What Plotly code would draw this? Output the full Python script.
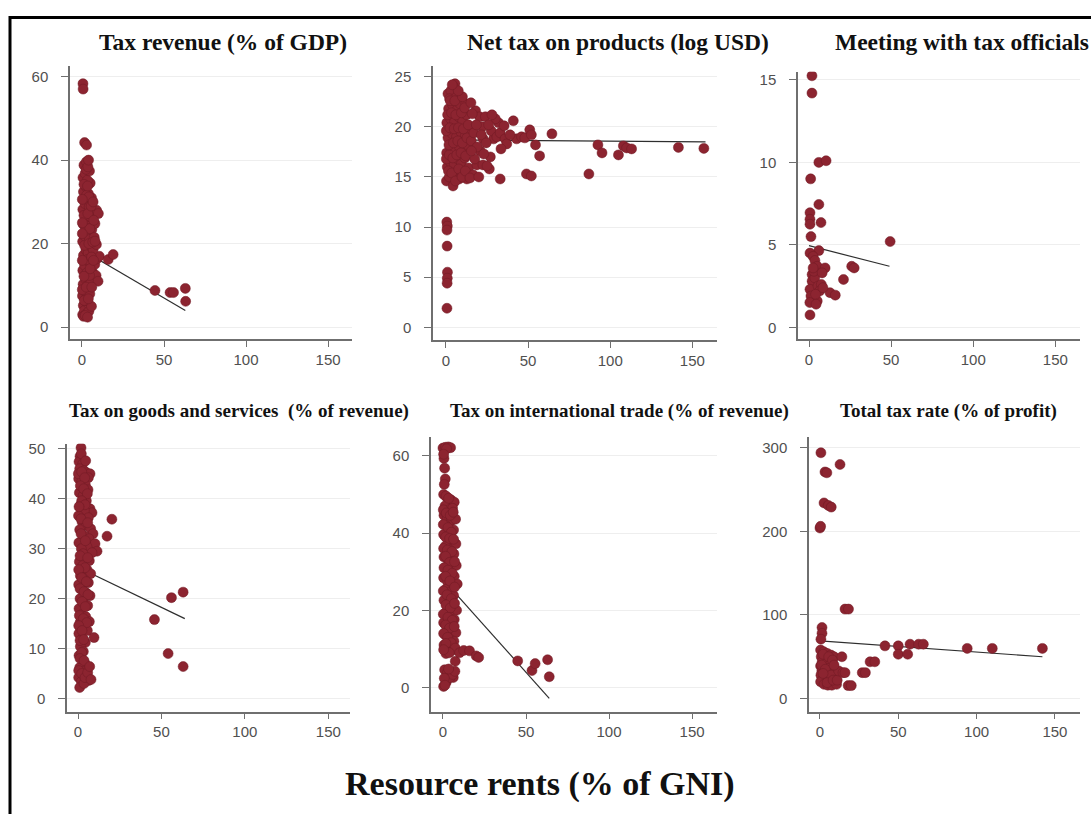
import plotly.graph_objects as go

# ---------------- data ----------------
titles_top = ["Tax revenue (% of GDP)", "Net tax on products (log USD)", "Meeting with tax officials"]
titles_bottom = ["Tax on goods and services&nbsp; (% of revenue)", "Tax on international trade (% of revenue)",
                 "Total tax rate (% of profit)"]
x_title = "Resource rents (% of GNI)"
x_ticks = [0, 50, 100, 150]

# Panel 1: Tax revenue (% of GDP)
p1_x = [0.4, 0.8, 1.5, 2.6, 3.4, 4.2, 0.3, 1.9, 3.0, 4.8, 0.7, 2.2, 3.6, 5.5, 6.4, 0.5, 1.6, 2.9, 4.4, 7.8,
        9.2, 10.6, 8.6, 9.8, 0.9, 2.4, 3.8, 5.2, 6.8, 0.4, 1.7, 3.1, 4.6, 6.0, 7.5, 8.8, 0.8, 2.3, 3.7, 5.1,
        6.6, 8.9, 10.0, 7.9, 0.5, 1.8, 3.2, 4.4, 5.8, 0.9, 2.5, 3.9, 5.0, 0.6, 1.9, 3.3, 4.6, 1.2, 2.7, 1.0,
        2.0, 5.8,
        1.4, 3.9, 0.2, 2.6, 4.6, 1.2, 3.3, 0.2, 5.8, 1.6, 4.2, 6.6, 2.2, 4.8, 1.2, 3.6, 5.6, 2.8, 4.2, 1.2,
        3.4, 2.6, 3.6, 0.2, 0.2, 0.2, 5.0, 6.0, 2.0, 3.4, 7.0, 8.0, 7.2, 6.8, 4.0,
        0.6, 0.7, 1.6, 2.8, 16.0, 19.0, 44.5, 53.7, 55.8, 63.0, 63.2]
p1_y = [3.0, 5.2, 4.0, 3.2, 5.8, 3.8, 7.5, 8.6, 7.2, 8.0, 10.3, 11.5, 10.0, 11.0, 13.2, 13.6, 14.8, 13.0, 15.6, 15.0,
        16.4, 17.0, 12.4, 11.0, 17.2, 18.5, 17.8, 19.4, 18.6, 20.5, 21.8, 22.6, 21.0, 23.4, 21.5, 19.8, 24.6, 25.8, 24.2, 26.5,
        27.4, 28.0, 27.2, 24.8, 28.2, 29.6, 30.8, 28.8, 31.0, 32.4, 33.6, 32.0, 34.5, 35.8, 36.8, 35.2, 37.4, 38.8, 39.6, 2.6,
        6.4, 5.0,
        6.4, 6.8, 9.0, 9.6, 12.4, 12.2, 16.2, 16.0, 16.8, 19.6, 20.0, 20.4, 23.8, 23.6, 26.8, 27.2, 29.0, 31.6, 31.2, 34.2,
        33.8, 37.8, 38.4, 30.6, 25.0, 22.4, 14.0, 9.6, 2.8, 2.4, 16.0, 20.6, 25.6, 30.0, 40.0,
        58.3, 57.0, 44.2, 43.6, 16.2, 17.4, 8.8, 8.3, 8.3, 9.3, 6.2]
fit1_x = [0, 63]
fit1_y = [18.5, 4.0]

# Panel 2: Net tax on products (log USD)
p2_x = [0.5, 0.8, 0.6, 0.7, 0.9, 0.8, 0.7, 0.6,
        1.2, 5.5, 4.5, 3.0, 2.2, 6.5,
        0.3, 2.0, 4.3, 6.0, 8.0, 10.5, 12.7, 0.8, 2.6, 5.0, 7.2, 9.4, 11.5, 13.8,
        0.4, 3.0, 5.6, 8.2, 10.8, 13.2, 1.2, 3.8, 6.4, 9.0, 11.8, 14.6,
        0.5, 2.8, 5.2, 7.8, 10.2, 12.5, 1.6, 4.0, 6.8, 8.5, 12.0,
        1.5, 3.5, 5.8, 7.8, 9.8, 11.8, 0.2, 2.0, 4.2, 6.6, 9.2, 12.0, 1.8, 4.6, 7.2, 10.0, 12.8, 0.2, 2.4, 5.0,
        7.6, 10.6, 13.6, 1.0, 3.4, 6.0, 9.4, 11.4, 2.6, 5.4, 15.4, 17.0, 18.0, 20.5, 22.0, 16.6, 14.6, 18.8,
        20.8, 22.6, 29.0, 32.0, 26.4, 15.2, 10.0, 7.5, 3.8,
        16.0, 18.5, 20.0, 22.5, 25.0, 27.0, 24.0, 30.0, 28.0, 19.0, 21.5, 24.5, 27.5, 17.5, 15.5, 31.0, 33.0,
        36.0, 26.0, 23.0, 37.0,
        33.5, 33.0, 35.4, 41.0, 43.0, 39.0, 46.0, 48.0, 51.0, 52.0, 54.5, 57.0, 49.0, 52.0, 64.5, 87.0,
        92.5, 95.0, 105.0, 108.0, 110.0, 113.0, 141.5, 157.0]
p2_y = [10.5, 10.1, 9.7, 8.1, 5.5, 4.9, 4.4, 1.9,
        23.3, 24.3, 24.0, 23.6, 22.8, 23.0,
        14.6, 15.0, 14.1, 15.2, 14.8, 15.4, 14.8, 16.0, 16.5, 16.2, 16.8, 16.3, 16.9, 15.9,
        17.4, 17.8, 17.5, 18.0, 17.6, 18.2, 18.9, 19.3, 19.0, 19.5, 19.1, 19.6,
        20.4, 20.8, 20.5, 21.0, 20.6, 21.2, 21.8, 22.2, 21.7, 22.3, 22.3,
        15.6, 15.4, 14.6, 15.8, 15.0, 15.6, 16.8, 17.2, 16.9, 17.2, 17.4, 17.1, 18.2, 18.4, 18.6, 18.4, 18.9, 19.6, 19.9, 19.8,
        19.9, 19.8, 20.2, 21.2, 21.4, 21.2, 21.4, 21.9, 22.6, 22.6, 18.6, 19.4, 21.6, 21.0, 20.0, 15.2, 14.9, 16.2,
        17.6, 18.8, 18.8, 20.4, 15.8, 22.4, 23.0, 23.6, 24.2,
        21.3, 20.2, 15.0, 16.2, 16.1, 17.0, 21.0, 20.8, 21.2, 18.0, 19.2, 18.4, 19.6, 16.8, 17.6, 19.0, 19.4,
        18.8, 20.2, 17.3, 18.3,
        17.8, 14.8, 20.1, 20.6, 18.8, 19.2, 19.0, 18.9, 19.7, 19.2, 18.2, 17.1, 15.3, 15.1, 19.3, 15.3,
        18.2, 17.4, 17.2, 18.1, 17.9, 17.8, 17.95, 17.85]
fit2_x = [0, 158]
fit2_y = [18.7, 18.5]

# Panel 3: Meeting with tax officials
p3_x = [1.8, 1.8, 6.0, 10.4, 1.0, 6.0, 0.6, 0.6, 0.6, 7.3, 1.2, 6.0, 0.6, 2.5, 49.4, 3.6, 5.0, 9.8, 26.0,
        27.5, 21.0, 1.9, 1.9, 3.5, 0.6, 1.2, 5.5, 7.5, 6.5, 12.8, 16.0, 5.0, 0.6, 0.5, 4.0, 8.5, 3.0, 2.5,
        8.0, 4.3]
p3_y = [15.25, 14.2, 10.0, 10.1, 9.0, 7.45, 6.95, 6.55, 6.25, 6.35, 5.5, 4.65, 4.5, 4.3, 5.2, 4.05, 3.7, 3.6, 3.7,
        3.6, 2.9, 3.2, 2.8, 3.0, 2.3, 1.9, 2.5, 2.6, 2.2, 2.1, 1.95, 1.6, 0.75, 1.5, 2.0, 2.4, 3.4, 3.6,
        3.3, 1.4]
fit3_x = [0, 49]
fit3_y = [4.95, 3.7]

# Panel 4: Tax on goods and services (% of revenue)
p4_x = [1.8, 1.2, 0.6, 2.8, 1.0, 3.6, 5.2, 7.2, 6.2, 0.4, 2.2, 4.4, 6.0, 0.8, 3.0, 5.0, 1.6, 7.2, 8.4, 3.8,
        0.3, 6.2, 2.4, 4.8, 7.6, 1.0, 9.0, 3.4, 6.6, 0.5, 10.2, 5.4, 11.4, 2.0, 8.4, 4.0, 6.8, 0.8, 2.8, 5.4,
        7.6, 1.4, 3.8, 6.2, 0.4, 2.4, 4.8, 7.2, 1.2, 3.4, 5.8, 0.6, 2.2, 4.6, 6.8, 1.2, 3.4, 5.6, 0.5, 2.6,
        4.4, 1.4, 3.2, 0.6, 2.4, 4.2, 1.0, 3.0, 5.4, 6.4, 0.4, 2.0, 1.0, 3.6,
        2.0, 4.6, 0.2, 2.2, 4.0, 1.4, 3.4, 5.6, 2.2, 4.2, 0.6, 1.8, 5.8, 1.8, 4.4, 3.0, 1.2, 5.8, 4.2, 0.4,
        2.2, 5.0, 1.2, 3.6, 6.0, 2.4, 4.4, 0.8, 3.2, 5.2, 0.4, 2.4, 1.2, 3.4, 2.2, 1.2, 3.6, 0.4, 2.2, 4.2,
        5.8, 7.8, 7.0,
        20.3, 17.4, 9.6, 45.8, 56.0, 63.0, 54.0, 63.0]
p4_y = [50.2, 48.5, 47.4, 47.0, 46.0, 45.6, 45.2, 45.0, 44.2, 44.0, 43.4, 42.8, 41.8, 41.2, 40.6, 39.6, 38.8, 38.0, 37.2, 37.6,
        36.6, 36.2, 35.4, 34.6, 34.0, 33.8, 33.0, 32.6, 32.0, 31.2, 31.0, 30.4, 29.5, 30.0, 29.2, 28.4, 27.6, 27.4, 26.6, 25.8,
        25.0, 24.6, 23.8, 23.2, 22.8, 21.8, 21.2, 20.6, 20.0, 19.2, 18.6, 18.0, 16.8, 16.4, 15.4, 15.2, 14.2, 13.6, 13.0, 12.0,
        11.2, 10.4, 9.4, 8.6, 7.8, 7.0, 6.2, 5.4, 4.6, 3.6, 4.2, 3.4, 2.2, 3.0,
        49.0, 47.6, 45.0, 45.4, 44.2, 42.6, 42.0, 41.0, 39.6, 38.8, 38.4, 36.0, 35.2, 33.0, 31.6, 29.0, 28.6, 28.2, 26.2, 25.8,
        24.2, 23.4, 22.0, 21.4, 20.8, 19.4, 18.4, 16.6, 16.0, 15.2, 14.6, 13.6, 11.6, 11.8, 9.2, 8.0, 7.6, 5.6, 5.0, 4.2,
        5.2, 3.8, 6.4,
        35.9, 32.5, 12.2, 15.8, 20.2, 21.3, 9.0, 6.4]
fit4_x = [0, 64]
fit4_y = [26.3, 16.0]

# Panel 5: Tax on international trade (% of revenue)
p5_x = [0.0, 1.5, 3.2, 4.6, 0.6, 1.0, 1.4, 0.8,
        0.4, 2.4, 4.8, 6.8, 1.2, 3.6, 0.6, 2.6, 5.0, 7.6, 1.6, 4.0, 6.4, 0.4, 2.8, 5.4, 7.8, 1.4, 4.2, 6.6,
        0.6, 3.0, 5.6, 8.0, 1.8, 4.4, 6.8, 0.4, 2.8, 5.2, 8.6, 1.4, 3.8, 6.4, 0.6, 3.0, 5.6, 8.2, 1.6, 4.2,
        6.8, 0.4, 2.8, 5.2, 7.8, 1.4, 4.0, 6.6, 0.6, 3.0, 5.4, 1.8,
        1.8, 3.4, 5.8, 0.2, 2.0, 4.4, 6.2, 0.2, 3.0, 5.0, 1.6, 4.0, 6.4, 0.4, 2.6, 5.4, 1.6, 4.0, 7.0, 0.6,
        3.0, 5.6, 1.6, 4.2, 7.0, 0.2, 2.4, 5.0, 1.8, 4.4, 7.0, 0.2, 3.0, 5.6, 1.6, 4.0, 6.8, 0.4, 2.8, 5.0,
        1.8, 7.4, 3.8, 0.4, 2.2, 0.4, 6.2, 2.0,
        1.0, 2.6, 4.2, 5.8, 7.2, 3.4, 0.8, 0.4, 1.2, 7.4,
        10.0, 12.5, 16.0, 20.0, 21.5, 45.0, 53.6, 55.5, 63.0, 64.0]
p5_y = [62.0, 62.2, 62.3, 62.1, 59.3, 56.8, 54.0, 52.6,
        50.0, 49.2, 48.6, 48.0, 47.0, 46.0, 44.6, 43.8, 43.2, 43.6, 42.0, 41.0, 40.8, 39.6, 38.6, 37.8, 37.2, 36.6, 35.6, 34.6,
        33.8, 33.0, 32.2, 31.6, 30.8, 29.8, 28.8, 28.4, 27.4, 26.6, 26.8, 25.4, 24.6, 23.8, 22.6, 21.6, 20.8, 20.0, 19.4, 18.4,
        17.6, 16.8, 15.8, 15.0, 14.2, 13.6, 12.6, 12.0, 11.0, 10.2, 9.6, 8.8,
        49.6, 49.0, 46.4, 46.0, 45.2, 44.6, 45.4, 42.2, 41.4, 40.2, 39.0, 38.6, 38.4, 36.0, 35.6, 35.2, 34.0, 32.4, 32.6, 31.0,
        30.4, 29.6, 28.8, 27.6, 26.0, 25.0, 24.0, 23.0, 21.4, 20.6, 21.8, 19.0, 18.2, 17.4, 16.2, 15.4, 15.8, 14.0, 13.0, 11.6,
        11.4, 10.2, 9.0, 9.8, 61.8, 60.4, 2.6, 1.4,
        4.6, 3.8, 2.6, 3.4, 4.2, 4.8, 2.4, 0.3, 0.6, 6.8,
        9.0, 9.6, 9.5, 8.2, 7.8, 6.9, 4.4, 6.2, 7.2, 2.8]
fit5_x = [0, 64]
fit5_y = [28.0, -2.8]

# Panel 6: Total tax rate (% of profit)
p6_x = [0.6, 3.2, 4.4, 12.8, 2.6, 5.3, 7.2, 0.0, 0.4, 16.0, 18.2, 1.3, 1.3, 0.6,
        0.4, 2.4, 4.6, 7.0, 9.0, 0.8, 3.2, 5.6, 1.4, 4.0, 6.6, 0.4, 2.6, 5.2, 8.0, 1.2, 3.8, 6.4, 9.6, 0.6,
        2.8, 5.2, 7.6, 1.6, 4.2, 6.6, 9.0, 0.4, 2.6, 5.0, 7.6, 10.6,
        2.0, 5.6, 8.0, 1.0, 3.4, 7.0, 2.0, 4.6, 8.4, 11.0, 12.0, 9.0,
        14.0, 14.7, 16.0, 18.0, 20.0, 27.0, 29.0, 32.0, 35.0, 41.5, 50.0, 50.0, 56.0, 57.5, 63.0, 66.0,
        94.0, 110.0, 142.0]
p6_y = [294, 271, 270, 280, 234, 231, 229, 204, 206, 107, 107, 85, 78, 71,
        58, 56, 54, 52, 50, 50, 48, 46, 44, 42, 41, 39, 37, 36, 35, 33, 31, 30, 31, 28,
        26, 25, 24, 22, 21, 20, 18, 20, 17, 16, 16, 17,
        53, 50, 46, 40, 35, 28, 30, 19, 22, 22, 33, 40,
        50, 31, 31, 15.5, 15.5, 31, 31, 44, 44, 63, 63, 53, 53, 65, 65, 65,
        60, 60, 60]
fit6_x = [0, 142]
fit6_y = [69, 50]

# ---------------- figure ----------------
W, H = 1091, 814
MARKER = "rgb(140,36,48)"
MARKER_EDGE = "rgb(112,26,36)"
AXIS = "#6f6f6f"

def fx(p):
    return p / W

def fy(p):
    return 1 - p / H

panels = [
    dict(x=p1_x, y=p1_y, fx=fit1_x, fy=fit1_y, xd=(70, 352), yd=(62, 337), xr=(-7.3, 164.6), yr=(-2.9, 62.6),
         yt=[0, 20, 40, 60]),
    dict(x=p2_x, y=p2_y, fx=fit2_x, fy=fit2_y, xd=(433, 717), yd=(62, 338), xr=(-7.9, 165), yr=(-1.3, 26.1),
         yt=[0, 5, 10, 15, 20, 25]),
    dict(x=p3_x, y=p3_y, fx=fit3_x, fy=fit3_y, xd=(798, 1080), yd=(68, 337), xr=(-6.7, 165), yr=(-0.73, 15.5),
         yt=[0, 5, 10, 15]),
    dict(x=p4_x, y=p4_y, fx=fit4_x, fy=fit4_y, xd=(67, 350), yd=(442, 711), xr=(-6.6, 163), yr=(-2.6, 51),
         yt=[0, 10, 20, 30, 40, 50]),
    dict(x=p5_x, y=p5_y, fx=fit5_x, fy=fit5_y, xd=(431, 717), yd=(435, 711), xr=(-7.2, 165), yr=(-6.2, 64.9),
         yt=[0, 20, 40, 60]),
    dict(x=p6_x, y=p6_y, fx=fit6_x, fy=fit6_y, xd=(809, 1080), yd=(435, 711), xr=(-7, 166), yr=(-15.5, 313),
         yt=[0, 100, 200, 300]),
]

fig = go.Figure()
layout = {}
tick_font = dict(family="Liberation Sans, Arial, sans-serif", size=15, color="#505050")

for i, p in enumerate(panels, start=1):
    xa = "x" if i == 1 else f"x{i}"
    ya = "y" if i == 1 else f"y{i}"
    fig.add_trace(go.Scatter(x=p["fx"], y=p["fy"], mode="lines", xaxis=xa, yaxis=ya,
                             line=dict(color="#2e2e2e", width=1.2), showlegend=False, hoverinfo="skip"))
    fig.add_trace(go.Scatter(x=p["x"], y=p["y"], mode="markers", xaxis=xa, yaxis=ya, showlegend=False,
                             marker=dict(size=10, color=MARKER, line=dict(color=MARKER_EDGE, width=0.5))))
    xkey = "xaxis" if i == 1 else f"xaxis{i}"
    ykey = "yaxis" if i == 1 else f"yaxis{i}"
    layout[xkey] = dict(domain=[fx(p["xd"][0]), fx(p["xd"][1])], anchor=ya, range=list(p["xr"]),
                        tickvals=x_ticks, showgrid=False, zeroline=False, showline=True, linecolor=AXIS,
                        linewidth=1.5, ticks="outside", ticklen=6, tickcolor=AXIS, tickwidth=1,
                        tickfont=tick_font, fixedrange=True)
    layout[ykey] = dict(domain=[fy(p["yd"][1]), fy(p["yd"][0])], anchor=xa, range=list(p["yr"]),
                        tickvals=p["yt"], showgrid=True, gridcolor="#eeeeee", gridwidth=1, zeroline=False,
                        showline=True, linecolor=AXIS, linewidth=1.5, ticks="outside", ticklen=7,
                        tickcolor=AXIS, tickwidth=1, tickfont=tick_font, ticklabelstandoff=10,
                        fixedrange=True)

annotations = []
serif = "Liberation Serif, Times New Roman, serif"
for t, x0 in zip(titles_top, [97, 465, 833]):
    annotations.append(dict(text=f"<b>{t}</b>", x=fx(x0), y=fy(38), xref="paper", yref="paper",
                            xanchor="left", yanchor="middle", showarrow=False,
                            font=dict(family=serif, size=23.5, color="#111111")))
for t, x0 in zip(titles_bottom, [67, 448, 838]):
    annotations.append(dict(text=f"<b>{t}</b>", x=fx(x0), y=fy(409), xref="paper", yref="paper",
                            xanchor="left", yanchor="middle", showarrow=False,
                            font=dict(family=serif, size=19, color="#111111")))
annotations.append(dict(text=f"<b>{x_title}</b>", x=fx(343), y=fy(784), xref="paper", yref="paper",
                        xanchor="left", yanchor="middle", showarrow=False,
                        font=dict(family=serif, size=34, color="#111111")))

shapes = [
    dict(type="line", xref="paper", yref="paper", x0=fx(9), x1=1.05, y0=fy(13.5), y1=fy(13.5),
         line=dict(color="black", width=3)),
    dict(type="line", xref="paper", yref="paper", x0=fx(10), x1=fx(10), y0=fy(12), y1=-0.05,
         line=dict(color="black", width=3)),
]

fig.update_layout(width=W, height=H, margin=dict(l=0, r=0, t=0, b=0), paper_bgcolor="white",
                  plot_bgcolor="white", annotations=annotations, shapes=shapes, **layout)

fig.write_html("out.html", config={"displayModeBar": False})
